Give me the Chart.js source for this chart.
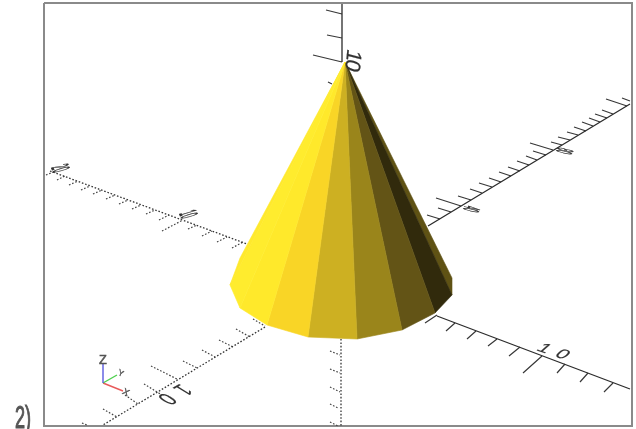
<!DOCTYPE html>
<html>
<head>
<meta charset="utf-8">
<script src="https://cdn.jsdelivr.net/npm/chart.js@4"></script>
<style>
  html, body { margin: 0; padding: 0; background: #fff; }
  canvas { display: block; filter: blur(0.45px); }
</style>
</head>
<body>
<canvas id="chart" width="636" height="429"></canvas>
<script>
const apex = [345, 62];
const baseRing = [[240,258],[230,285],[240,308],[267,325],[308,337],[357,339],[402,330],[435,313],[452,295],[452,278]];
const facetColors = ['#FFE92C','#FFEC2E','#FFE92B','#F9D526','#CDB022','#9A851B','#635416','#312A0C','#5F5214'];

const frame = [[44,3],[632,3],[632,426],[44,426],[44,3]];

const axisSolid = [[342,4,342,62],[437,316,630,389],[428,226,630,104]];
const axisDotted = [[50,171,247,244],[265,327,103,425],[341,339,341,427]];

const ticksRight = [
  [427,215,440,219],[438,208,451,212],[436,198,461,206],[458,196,471,200],[470,189,482,193],
  [479,183,492,187],[489,178,501,182],[499,172,511,176],[508,167,520,171],[517,161,529,165],
  [526,156,537,160],[533,151,546,155],[530,143,553,150],[551,142,562,145],[558,137,570,140],
  [567,132,578,135],[574,127,586,131],[582,122,593,126],[589,118,600,122],[595,114,607,118],
  [602,110,613,114],[606,99,627,106],[622,98,630,101]
];
const ticksLowerRight = [
  [425,323,437,315],[446,331,455,323],[467,339,476,331],[488,346,497,339],[509,356,520,347],
  [523,373,542,356],[557,373,565,364],[580,382,588,373],[604,392,613,383]
];
const ticksTop = [[326,10,342,14],[327,35,342,38],[313,55,342,62],[328,82,332,84]];
const ticksLeft = [
  [46,175,56,171],[57,180,65,176],[69,185,78,181],[81,190,90,186],[93,194,102,190],[106,199,115,195],
  [119,204,128,200],[132,209,141,205],[146,214,155,210],[159,220,169,215],[162,231,183,220],
  [188,229,197,225],[202,236,212,231],[217,242,227,237],[232,248,243,242]
];
const ticksLowerLeft = [
  [253,319,265,326],[236,329,250,337],[219,340,233,347],[202,350,215,357],[183,361,197,368],
  [151,366,177,379],[144,384,162,395],[125,395,138,404],[103,409,117,417],[82,423,87,425]
];
const ticksBottom = [[330,351,340,355],[330,369,340,373],[330,387,340,392],[330,404,338,408],[330,422,338,426]];

const widgetZ = [[103,383],[103,364]];
const widgetY = [[103,383],[117,375]];
const widgetX = [[103,383],[123,391]];

// axis numbers and widget letters, skewed like the 3d view does it
const labelTexts = ['10','10','10','40','80','10','20','Z','Y','X','2)'];
const labelCenters = [[354,60],[172,397],[558,352],[472,209],[565,151],[189,214],[61,168],[103,359],[121,373],[126,392],[23,417]];
const labelRuns = [[-1,10],[-7,4],[9,3],[-1,2],[-1,2],[1,2.5],[1,2.5],[6,0],[3.5,2],[4,2],[8.5,0]];
const labelUps = [[15,4],[15,9],[9,-8],[16,3.5],[16,3.5],[17,-5],[17,-5],[0,-9],[2,-6],[3,-6],[0,-22]];
const labelGaps = [-1,5,4,0,0,0,0,0,0,0,0];
const labelColors = ['#333','#333','#333','#333','#333','#333','#333','#555','#555','#555','#555'];
const labelStrokes = [0.1,0.1,0.1,0.35,0.35,0.35,0.35,0.4,0.4,0.4,0.35];

function pts(list) {
  return list.map(p => ({ x: p[0], y: p[1] }));
}
function segs(list) {
  const out = [];
  list.forEach(s => {
    out.push({ x: s[0], y: s[1] }, { x: s[2], y: s[3] }, { x: null, y: null });
  });
  return out;
}
function line(data, color, width, dash) {
  return { data: data, borderColor: color, borderWidth: width, borderDash: dash || [], showLine: true, pointRadius: 0, fill: false };
}

const datasets = [];
facetColors.forEach((c, i) => {
  datasets.push({
    data: pts([apex, baseRing[i], baseRing[i + 1], apex]),
    backgroundColor: c, borderColor: c, borderWidth: 0.6,
    showLine: true, pointRadius: 0, fill: 'shape'
  });
});
datasets.push(line(pts(widgetZ), '#5a5ae0', 1.4));
datasets.push(line(pts(widgetY), '#4fd04f', 1.4));
datasets.push(line(pts(widgetX), '#e85a5a', 1.4));
datasets.push(line(segs(axisSolid), '#2c2c2c', 1.3));
datasets.push(line(segs(ticksRight.concat(ticksLowerRight, ticksTop)), '#383838', 1.2));
datasets.push(line(segs(axisDotted), '#333', 1.3, [1.6, 1.8]));
datasets.push(line(segs(ticksLeft.concat(ticksLowerLeft, ticksBottom)), '#444', 1.2, [1.6, 1.8]));
datasets.push(line(pts(frame), '#8a8a8a', 2));

const skewedLabels = {
  id: 'skewedLabels',
  afterDatasetsDraw(chart) {
    const ctx = chart.ctx, sx = chart.scales.x, sy = chart.scales.y;
    labelTexts.forEach((t, i) => {
      const r = labelRuns[i], u = labelUps[i];
      ctx.save();
      ctx.translate(sx.getPixelForValue(labelCenters[i][0]), sy.getPixelForValue(labelCenters[i][1]));
      ctx.transform(r[0] / 4.7, r[1] / 4.7, -u[0] / 7.2, -u[1] / 7.2, 0, 0);
      ctx.font = '10px "Liberation Sans"';
      ctx.letterSpacing = labelGaps[i] + 'px';
      ctx.textAlign = 'center';
      ctx.fillStyle = labelColors[i];
      ctx.strokeStyle = labelColors[i];
      ctx.lineWidth = labelStrokes[i];
      ctx.fillText(t, 0, 3.6);
      ctx.strokeText(t, 0, 3.6);
      ctx.restore();
    });
  }
};

new Chart(document.getElementById('chart'), {
  type: 'scatter',
  data: { datasets: datasets },
  options: {
    responsive: false,
    animation: false,
    layout: { padding: 0 },
    plugins: { legend: { display: false }, tooltip: { enabled: false } },
    scales: {
      x: { type: 'linear', min: 0, max: 636, display: false },
      y: { type: 'linear', min: 0, max: 429, reverse: true, display: false }
    }
  },
  plugins: [skewedLabels]
});
</script>
</body>
</html>
